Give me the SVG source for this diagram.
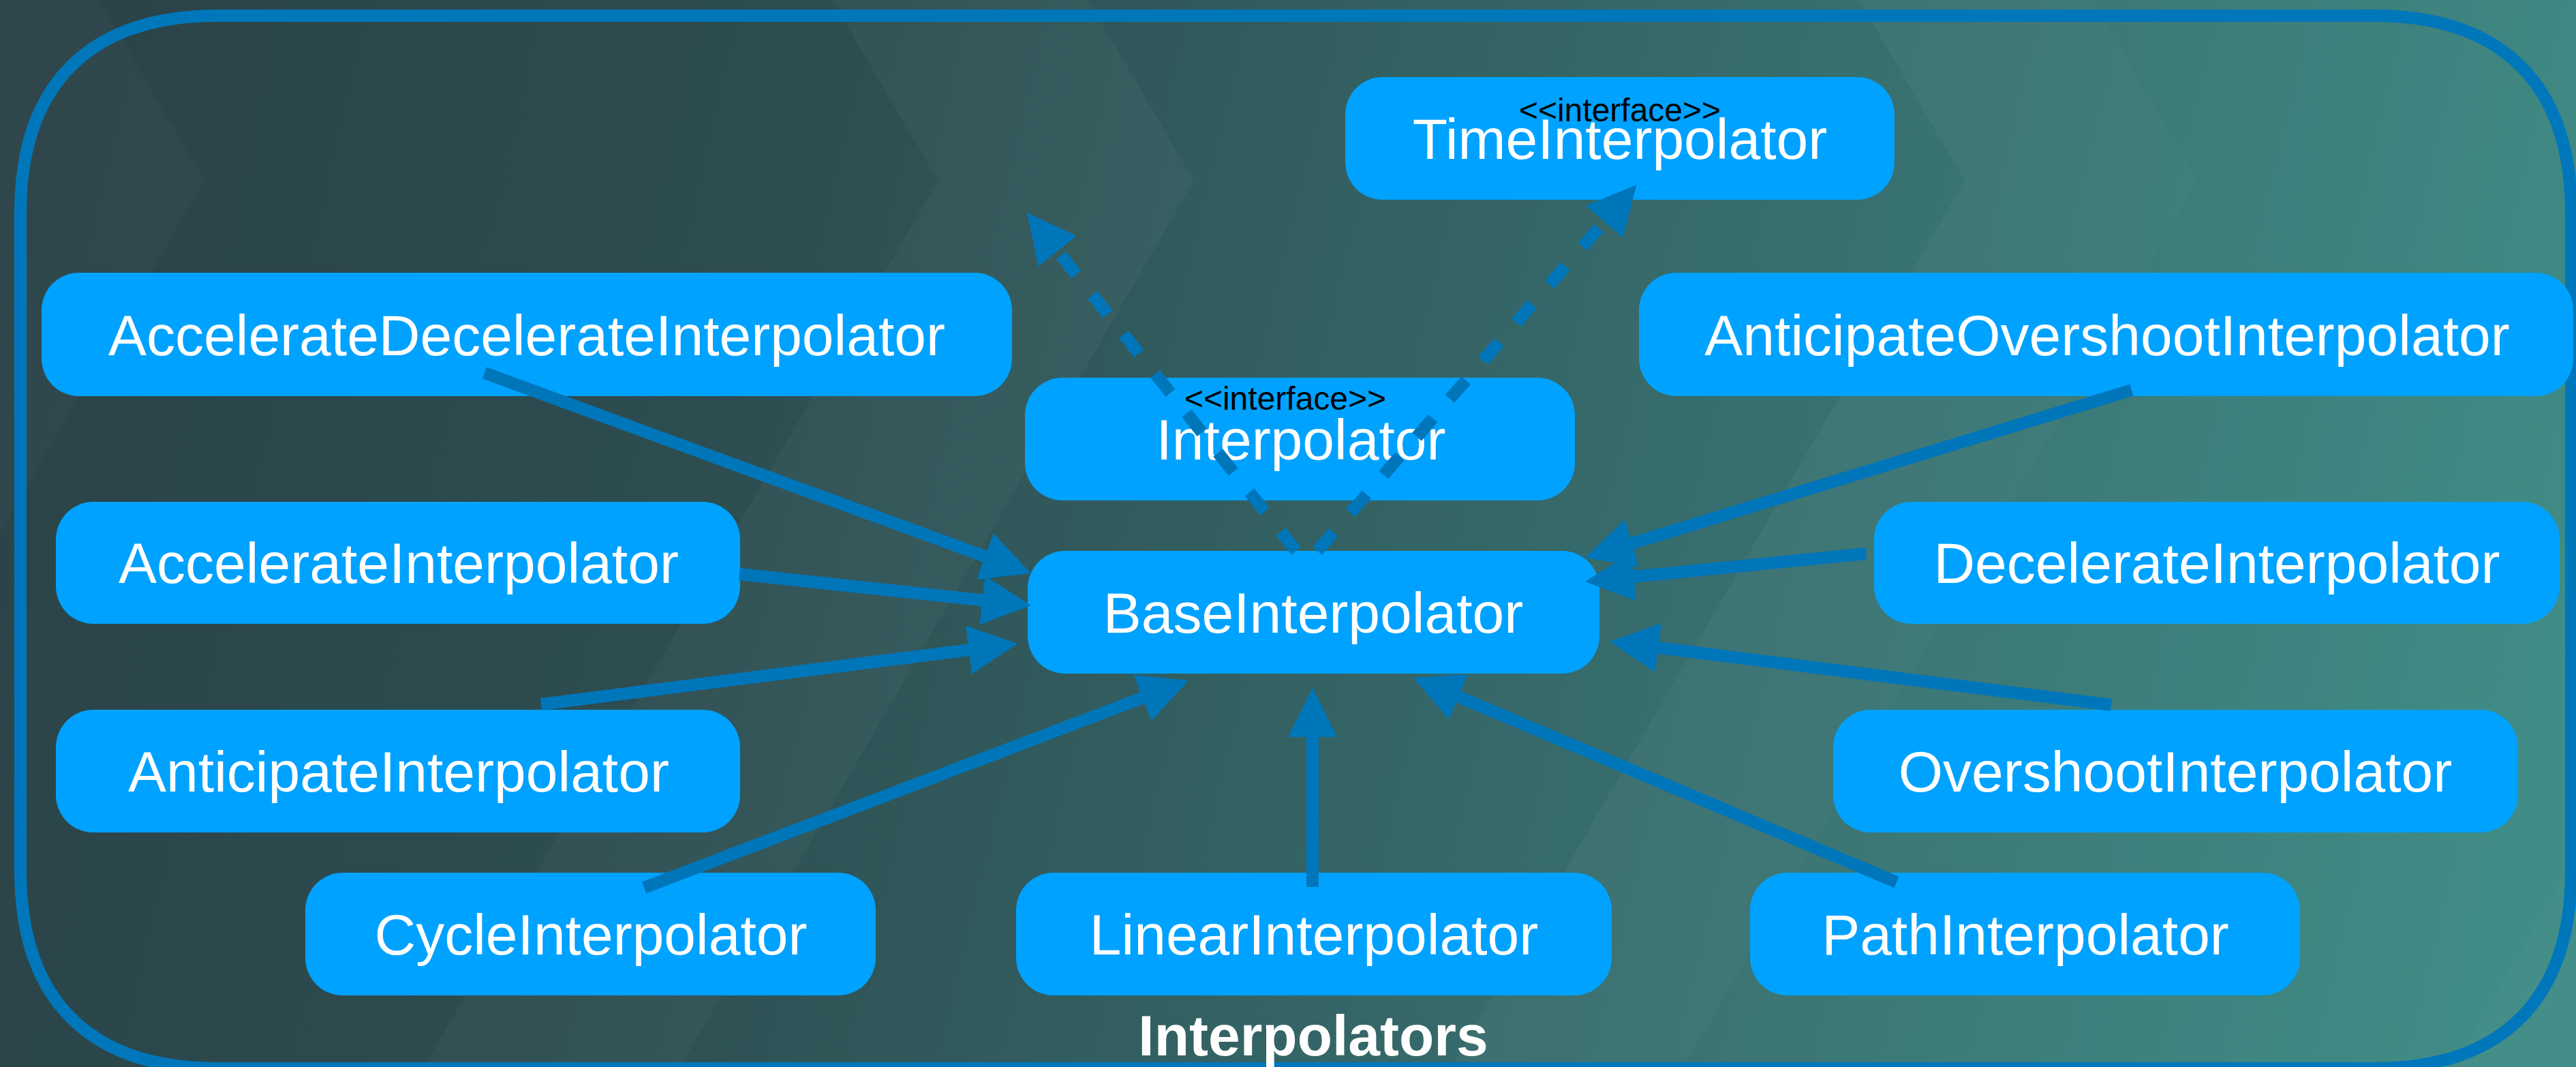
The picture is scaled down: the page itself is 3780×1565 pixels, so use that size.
<svg xmlns="http://www.w3.org/2000/svg" width="3780" height="1565" viewBox="0 0 3780 1565">
<defs>
<linearGradient id="bg" gradientUnits="userSpaceOnUse" x1="0" y1="0" x2="3780" y2="900">
<stop offset="0" stop-color="#2a4247"/>
<stop offset="0.3" stop-color="#2d4d50"/>
<stop offset="0.62" stop-color="#36696a"/>
<stop offset="1" stop-color="#3d8a84"/>
</linearGradient>
<marker id="ah" markerUnits="userSpaceOnUse" markerWidth="72" markerHeight="72" viewBox="0 0 72 72" refX="32" refY="36" orient="auto">
<path d="M0,0 L72,36 L0,72 Z" fill="#0076ba"/>
</marker>
<style>
.band{fill:#ffffff;}
.box{fill:#00a2ff;}
.lbl{font-family:"Liberation Sans",Arial,Helvetica,sans-serif;font-size:84px;fill:#ffffff;text-anchor:middle;}
.st{font-family:"Liberation Sans",Arial,Helvetica,sans-serif;font-size:48px;fill:#000000;text-anchor:middle;}
.title{font-family:"Liberation Sans",Arial,Helvetica,sans-serif;font-size:84px;font-weight:bold;fill:#ffffff;text-anchor:middle;}
.edge{stroke:#0076ba;stroke-width:18;fill:none;marker-end:url(#ah);}
.dash{stroke-dasharray:36 38;}
.frame{fill:none;stroke:#0077ba;stroke-width:18;}
</style>
</defs>
<g id="background">
<rect x="0" y="0" width="3780" height="1565" fill="url(#bg)"/>
<polygon class="band" fill-opacity="0.025" points="0,0 145,0 300,265 0,782"/>
<polygon class="band" fill-opacity="0.03" points="1221,0 1376,265 622,1565 998,1565 1752,265 1597,0"/>
<polygon class="band" fill-opacity="0.035" points="2728,0 2883,265 2129,1565 2471,1565 3225,265 3070,0"/>
<polygon class="band" fill-opacity="0.02" points="3070,0 3225,265 2471,1565 3600,1565 4354,265 4199,0"/>
<polygon class="band" fill-opacity="0.035" points="3600,1565 3780,1565 3780,1255"/>
</g>
<g id="frame">
<path class="frame" d="M30,313 C30,124 131,23 320,23 L3483,23 C3672,23 3773,124 3773,313 L3773,1277 C3773,1466 3672,1567 3483,1567 L320,1567 C131,1567 30,1466 30,1277 Z"/>
</g>
<g id="node-TimeInterpolator">
<rect class="box" x="1974" y="113" width="806" height="180" rx="55"/>
<text class="lbl" x="2377" y="233">TimeInterpolator</text>
<text class="st" x="2377" y="178">&lt;&lt;interface&gt;&gt;</text>
</g>
<g id="node-AccelerateDecelerateInterpolator">
<rect class="box" x="61" y="400" width="1424" height="181" rx="55"/>
<text class="lbl" x="773" y="521">AccelerateDecelerateInterpolator</text>
</g>
<g id="node-AnticipateOvershootInterpolator">
<rect class="box" x="2405" y="400" width="1371" height="181" rx="55"/>
<text class="lbl" x="3092" y="521">AnticipateOvershootInterpolator</text>
</g>
<g id="node-Interpolator">
<rect class="box" x="1504" y="554" width="807" height="180" rx="55"/>
<text class="lbl" x="1909" y="674">Interpolator</text>
<text class="st" x="1886" y="601">&lt;&lt;interface&gt;&gt;</text>
</g>
<g id="node-BaseInterpolator">
<rect class="box" x="1508" y="808" width="839" height="180" rx="55"/>
<text class="lbl" x="1927" y="928">BaseInterpolator</text>
</g>
<g id="node-AccelerateInterpolator">
<rect class="box" x="82" y="736" width="1004" height="179" rx="55"/>
<text class="lbl" x="585" y="855">AccelerateInterpolator</text>
</g>
<g id="node-DecelerateInterpolator">
<rect class="box" x="2750" y="736" width="1006" height="179" rx="55"/>
<text class="lbl" x="3253" y="855">DecelerateInterpolator</text>
</g>
<g id="node-AnticipateInterpolator">
<rect class="box" x="82" y="1041" width="1004" height="180" rx="55"/>
<text class="lbl" x="585" y="1161">AnticipateInterpolator</text>
</g>
<g id="node-OvershootInterpolator">
<rect class="box" x="2690" y="1041" width="1005" height="180" rx="55"/>
<text class="lbl" x="3192" y="1161">OvershootInterpolator</text>
</g>
<g id="node-CycleInterpolator">
<rect class="box" x="448" y="1280" width="837" height="180" rx="55"/>
<text class="lbl" x="867" y="1400">CycleInterpolator</text>
</g>
<g id="node-LinearInterpolator">
<rect class="box" x="1491" y="1280" width="874" height="180" rx="55"/>
<text class="lbl" x="1928" y="1400">LinearInterpolator</text>
</g>
<g id="node-PathInterpolator">
<rect class="box" x="2568" y="1280" width="807" height="180" rx="55"/>
<text class="lbl" x="2972" y="1400">PathInterpolator</text>
</g>
<g id="title">
<text class="title" x="1927" y="1548">Interpolators</text>
</g>
<g id="connectors">
<line class="edge" x1="711" y1="547" x2="1475.5" y2="827.1"/>
<line class="edge" x1="1085" y1="842" x2="1473.2" y2="883.7"/>
<line class="edge" x1="794" y1="1033" x2="1453.3" y2="949.1"/>
<line class="edge" x1="945" y1="1302" x2="1706.6" y2="1012.2"/>
<line class="edge" x1="1926" y1="1301" x2="1926" y2="1049"/>
<line class="edge" x1="2783" y1="1294" x2="2110.8" y2="1009.6"/>
<line class="edge" x1="3098" y1="1034" x2="2401.7" y2="946"/>
<line class="edge" x1="2738" y1="812" x2="2365.8" y2="849"/>
<line class="edge" x1="3128" y1="572" x2="2364.2" y2="806.3"/>
<line class="edge dash" x1="1902" y1="808" x2="1531.9" y2="343.3"/>
<line class="edge dash" x1="1933" y1="808" x2="2375.2" y2="301.1"/>
</g>
</svg>
